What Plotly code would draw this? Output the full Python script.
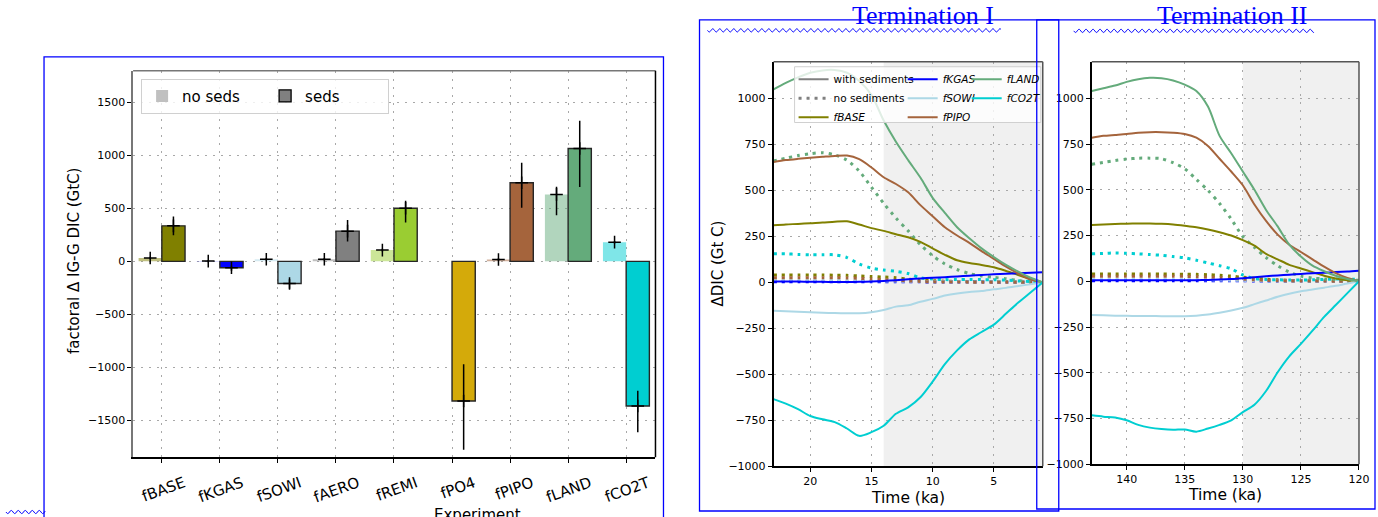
import numpy as np
import plotly.graph_objects as go

# Target picture coordinates (1378 x 517); the figure is drawn a little larger because the
# photographed page is scaled down by ~0.991 to fit the picture.
PW, PH = 1378, 517
W, H = 1390, 522
def px(x): return x / PW
def py(y): return 1 - y / PH

# ---------------- data: factorial bar chart ----------------
experiments = ["fBASE", "fKGAS", "fSOWI", "fAERO", "fREMI", "fPO4", "fPIPO", "fLAND", "fCO2T"]
bar_colors = ["#808000", "#0000ff", "#add8e6", "#808080", "#9acd32", "#d4aa0a", "#a5643c", "#64ab7b", "#00ced1"]
noseds_val = [31, 2, 20, 20, 106, None, 18, 632, 181]
noseds_err_plus = [12, 10, 12, 12, 12, 0, 12, 73, 12]
noseds_err_minus = [12, 10, 12, 12, 12, 0, 12, 197, 12]
seds_val = [335, -60, -210, 285, 501, -1319, 742, 1065, -1366]
seds_err_plus = [88, 20, 40, 106, 72, 347, 188, 262, 144]
seds_err_minus = [88, 28, 50, 97, 135, 460, 235, 364, 248]

# ---------------- data: Termination I (ka) ----------------
t1 = list(range(23, 0, -1))
T1_solid = {
    "fBASE": [310, 315, 318, 322, 325, 330, 332, 315, 295, 280, 262, 245, 220, 185, 150, 120, 105, 95, 82, 62, 40, 18, 0],
    "fKGAS": [5, 4, 4, 3, 3, 2, 2, 3, 5, 8, 12, 17, 21, 25, 28, 32, 36, 40, 44, 47, 50, 52, 55],
    "fSOWI": [-155, -157, -160, -162, -165, -167, -168, -168, -162, -150, -132, -125, -105, -90, -72, -60, -52, -47, -38, -30, -20, -10, 0],
    "fPIPO": [655, 665, 672, 678, 683, 688, 690, 670, 625, 572, 535, 490, 420, 360, 300, 255, 215, 170, 128, 85, 48, 15, 0],
    "fLAND": [1050, 1085, 1115, 1140, 1153, 1155, 1140, 1095, 1020, 880, 765, 665, 570, 460, 378, 300, 240, 185, 138, 95, 58, 25, 0],
    "fCO2T": [-635, -660, -690, -727, -745, -760, -795, -835, -815, -780, -715, -680, -625, -540, -445, -370, -310, -270, -230, -170, -110, -55, 0],
}
T1_noseds = {
    "fBASE": [40, 40, 40, 40, 40, 39, 38, 35, 32, 29, 25, 18, 12, 9, 6, 5, 4, 4, 3, 3, 2, 1, 0],
    "fKGAS": [3, 3, 3, 3, 3, 3, 3, 3, 3, 3, 3, 3, 3, 2, 2, 2, 2, 2, 1, 1, 1, 0, 0],
    "fSOWI": [10, 10, 10, 10, 10, 10, 10, 10, 9, 8, 7, 6, 5, 4, 3, 3, 2, 2, 2, 1, 1, 0, 0],
    "fPIPO": [25, 25, 25, 25, 25, 25, 24, 22, 18, 15, 12, 8, 5, 3, 2, 2, 1, 1, 1, 1, 0, 0, 0],
    "fLAND": [660, 675, 690, 700, 705, 693, 665, 605, 518, 430, 350, 280, 205, 145, 100, 70, 48, 35, 27, 20, 10, 5, 0],
    "fCO2T": [155, 155, 152, 150, 150, 150, 135, 100, 78, 67, 60, 48, 25, 18, 15, 15, 15, 15, 14, 12, 8, 4, 0],
}

# ---------------- data: Termination II (ka) ----------------
t2 = list(range(143, 119, -1))
T2_solid = {
    "fBASE": [308, 310, 313, 315, 316, 316, 314, 310, 303, 295, 283, 268, 250, 225, 195, 150, 120, 90, 70, 50, 30, 15, 5, 0],
    "fKGAS": [5, 5, 5, 5, 5, 5, 5, 5, 5, 6, 7, 9, 12, 17, 22, 27, 32, 36, 40, 44, 47, 50, 53, 57],
    "fSOWI": [-185, -186, -188, -189, -190, -190, -191, -191, -191, -188, -182, -172, -160, -145, -125, -105, -85, -68, -55, -45, -35, -25, -12, 0],
    "fPIPO": [785, 795, 800, 805, 812, 815, 815, 812, 805, 785, 740, 670, 600, 525, 420, 330, 255, 200, 160, 120, 80, 45, 18, 0],
    "fLAND": [1040, 1055, 1070, 1090, 1105, 1112, 1110, 1098, 1075, 1040, 955, 795, 700, 600, 500, 390, 300, 200, 135, 85, 55, 30, 12, 0],
    "fCO2T": [-733, -740, -745, -760, -785, -800, -808, -812, -810, -822, -805, -785, -760, -715, -675, -600, -497, -410, -342, -270, -195, -130, -65, 0],
}
T2_noseds = {
    "fBASE": [40, 40, 40, 40, 40, 40, 40, 39, 39, 38, 36, 33, 28, 22, 17, 12, 8, 5, 4, 3, 3, 2, 1, 0],
    "fKGAS": [3, 3, 3, 3, 3, 3, 3, 3, 3, 3, 3, 3, 3, 3, 2, 2, 2, 2, 1, 1, 1, 0, 0, 0],
    "fSOWI": [10, 10, 10, 10, 10, 10, 10, 10, 10, 9, 8, 7, 6, 5, 4, 3, 3, 2, 2, 1, 1, 0, 0, 0],
    "fPIPO": [28, 28, 28, 28, 28, 28, 28, 28, 27, 25, 23, 20, 16, 12, 8, 5, 3, 2, 2, 1, 1, 0, 0, 0],
    "fLAND": [640, 650, 660, 668, 673, 673, 670, 648, 615, 557, 497, 425, 340, 245, 185, 130, 85, 50, 28, 18, 12, 10, 8, 5],
    "fCO2T": [150, 152, 155, 153, 150, 146, 142, 135, 128, 115, 100, 85, 68, 35, 15, 10, 8, 7, 7, 8, 10, 12, 12, 10],
}
line_colors = {"fBASE": "#808000", "fKGAS": "#0000ff", "fSOWI": "#add8e6",
               "fPIPO": "#a5643c", "fLAND": "#64ab7b", "fCO2T": "#00ced1"}
legend_slot = {"fBASE": ("legend2", 3), "fKGAS": ("legend3", 1), "fSOWI": ("legend3", 2),
               "fPIPO": ("legend3", 3), "fLAND": ("legend4", 1), "fCO2T": ("legend4", 2)}

FONT = "DejaVu Sans"

def rgba(hexc, a):
    h = hexc.lstrip("#")
    return "rgba(%d,%d,%d,%.2f)" % (int(h[0:2], 16), int(h[2:4], 16), int(h[4:6], 16), a)

fig = go.Figure()
xi = np.arange(len(experiments))

# ---- bars ----
fig.add_trace(go.Bar(x=xi - 0.2, y=noseds_val, width=0.4,
                     marker=dict(color=[rgba(c, 0.5) for c in bar_colors], line=dict(width=0)),
                     error_y=dict(type="data", symmetric=False, array=noseds_err_plus, arrayminus=noseds_err_minus,
                                  color="black", thickness=1.5, width=0),
                     showlegend=False, xaxis="x", yaxis="y"))
fig.add_trace(go.Bar(x=xi + 0.2, y=seds_val, width=0.4,
                     marker=dict(color=bar_colors, line=dict(color="#262626", width=1.4)),
                     error_y=dict(type="data", symmetric=False, array=seds_err_plus, arrayminus=seds_err_minus,
                                  color="black", thickness=1.5, width=0),
                     showlegend=False, xaxis="x", yaxis="y"))
for off, vals in ((-0.2, noseds_val), (0.2, seds_val)):
    fig.add_trace(go.Scatter(x=xi + off, y=vals, mode="markers",
                             marker=dict(symbol="cross-thin", size=9, line=dict(color="black", width=1.5)),
                             showlegend=False, xaxis="x", yaxis="y"))
fig.add_trace(go.Bar(x=[None], y=[None], name="no seds", marker=dict(color="#c0c0c0", line=dict(width=0)),
                     legend="legend", xaxis="x", yaxis="y"))
fig.add_trace(go.Bar(x=[None], y=[None], name="seds", marker=dict(color="#808080", line=dict(color="black", width=1.3)),
                     legend="legend", xaxis="x", yaxis="y"))

# ---- lines ----
DOT = "3px,5px"
for (tt, solid, noseds, xa, ya, first) in ((t1, T1_solid, T1_noseds, "x2", "y2", True),
                                            (t2, T2_solid, T2_noseds, "x3", "y3", False)):
    for k in solid:
        fig.add_trace(go.Scatter(x=tt, y=noseds[k], mode="lines",
                                 line=dict(color=line_colors[k], width=3, dash=DOT, shape="spline", smoothing=0.8),
                                 showlegend=False, xaxis=xa, yaxis=ya))
    for k in solid:
        lg, rank = legend_slot[k]
        fig.add_trace(go.Scatter(x=tt, y=solid[k], mode="lines", name="<i>%s</i>" % k,
                                 line=dict(color=line_colors[k], width=2, shape="spline", smoothing=0.8),
                                 showlegend=first, legend=lg, legendrank=rank, xaxis=xa, yaxis=ya))

fig.add_trace(go.Scatter(x=[None], y=[None], mode="lines", name="with sediments",
                         line=dict(color="#808080", width=2), legend="legend2", legendrank=1,
                         xaxis="x2", yaxis="y2"))
fig.add_trace(go.Scatter(x=[None], y=[None], mode="lines", name="no sediments",
                         line=dict(color="#808080", width=3, dash=DOT), legend="legend2", legendrank=2,
                         xaxis="x2", yaxis="y2"))

# ---- axes ----
grid = dict(showgrid=True, gridcolor="#a8a8a8", griddash="2px,6px", gridwidth=1, zeroline=False,
            ticks="outside", ticklen=4, tickcolor="black", showline=True, linecolor="black", linewidth=1.5)
fig.update_layout(
    width=W, height=H, margin=dict(l=0, r=0, t=0, b=0),
    paper_bgcolor="white", plot_bgcolor="white", barmode="overlay",
    font=dict(family=FONT, color="black", size=11),
    xaxis=dict(domain=[px(133), px(655)], range=[-0.495, 8.505], tickvals=list(xi), ticktext=experiments,
               tickangle=-20, tickfont=dict(size=15), ticklabelshift=22, ticklabelstandoff=6, anchor="y", **grid),
    yaxis=dict(domain=[py(459), py(71)], range=[-1850, 1800], tickvals=[-1500, -1000, -500, 0, 500, 1000, 1500],
               tickfont=dict(size=11), anchor="x", **{**grid, "linecolor": "#777777"}),
    xaxis2=dict(domain=[px(773), px(1042)], range=[23, 1], tickvals=[20, 15, 10, 5], anchor="y2",
                tickfont=dict(size=11), **grid),
    yaxis2=dict(domain=[py(468), py(62)], range=[-1000, 1200], tickvals=list(range(-1000, 1001, 250)),
                anchor="x2", tickfont=dict(size=11), **grid),
    xaxis3=dict(domain=[px(1091), px(1358)], range=[143, 120], tickvals=[140, 135, 130, 125, 120], anchor="y3",
                tickfont=dict(size=11), **grid),
    yaxis3=dict(domain=[py(466), py(62)], range=[-1000, 1200], tickvals=list(range(-1000, 1001, 250)),
                anchor="x3", tickfont=dict(size=11), **grid),
    legend=dict(x=px(141), y=py(79), xanchor="left", yanchor="top", orientation="h",
                font=dict(size=15), bgcolor="rgba(255,255,255,0.8)", bordercolor="#d0d0d0", borderwidth=1,
                entrywidth=78),
    legend2=dict(x=px(793), y=py(65), xanchor="left", yanchor="top", font=dict(size=10.5),
                 bgcolor="rgba(0,0,0,0)", tracegroupgap=0),
    legend3=dict(x=px(902), y=py(65), xanchor="left", yanchor="top", font=dict(size=10.5),
                 bgcolor="rgba(0,0,0,0)", tracegroupgap=0),
    legend4=dict(x=px(966), y=py(65), xanchor="left", yanchor="top", font=dict(size=10.5),
                 bgcolor="rgba(0,0,0,0)", tracegroupgap=0),
)

shapes = []
# shaded deglaciation periods
shapes.append(dict(type="rect", xref="x2", yref="y2 domain", x0=14, x1=1, y0=0, y1=1,
                   fillcolor="#f0f0f0", line=dict(width=0), layer="below"))
shapes.append(dict(type="rect", xref="x3", yref="y3 domain", x0=130, x1=120, y0=0, y1=1,
                   fillcolor="#f0f0f0", line=dict(width=0), layer="below"))
# top / right spines
for xr, yr, ct, cr in (("x", "y", "#777777", "black"), ("x2", "y2", "#555555", "#555555"), ("x3", "y3", "#555555", "#555555")):
    shapes.append(dict(type="line", xref=xr + " domain", yref=yr + " domain", x0=0, x1=1, y0=1, y1=1,
                       line=dict(color=ct, width=1.5)))
    shapes.append(dict(type="line", xref=xr + " domain", yref=yr + " domain", x0=1, x1=1, y0=0, y1=1,
                       line=dict(color=cr, width=1.5)))
# legend frame on Termination I
shapes.append(dict(type="rect", xref="paper", yref="paper", x0=px(794), x1=px(1040), y0=py(123), y1=py(67),
                   fillcolor="rgba(255,255,255,0.8)", line=dict(color="#d0d0d0", width=1), layer="above"))
# blue outline boxes
for (x0, y0, x1, y1) in ((44, 57, 663, 540), (699, 20, 1058, 513), (1036, 20, 1374, 511)):
    shapes.append(dict(type="rect", xref="paper", yref="paper", x0=px(x0), x1=px(x1), y0=py(y1), y1=py(y0),
                       line=dict(color="blue", width=1.3), fillcolor="rgba(0,0,0,0)", layer="above"))
# wavy underlines
def wave(xa, xb, yc, period=7.0, amp=1.6):
    xs = np.arange(xa, xb + 0.5, 0.7)
    ys = yc + amp * np.sin(2 * np.pi * (xs - xa) / period)
    return "M " + " L ".join("%.6f,%.6f" % (px(a), py(b)) for a, b in zip(xs, ys))
for (xa, xb, yc) in ((707, 1000, 30.5), (1073, 1313, 31), (6, 45, 514)):
    shapes.append(dict(type="path", xref="paper", yref="paper", path=wave(xa, xb, yc),
                       line=dict(color="blue", width=1), layer="above"))
fig.update_layout(shapes=shapes)

ann = [
    dict(text="Termination I", x=px(922), y=py(16), font=dict(family="Liberation Serif", size=26, color="blue")),
    dict(text="Termination II", x=px(1232), y=py(16), font=dict(family="Liberation Serif", size=26, color="blue")),
    dict(text="factoral Δ IG-G DIC (GtC)", x=px(74), y=py(262), textangle=-90, font=dict(size=15)),
    dict(text="Experiment", x=px(477), y=py(506), yanchor="top", font=dict(size=15)),
    dict(text="ΔDIC (Gt C)", x=px(717), y=py(265), textangle=-90, font=dict(size=15)),
    dict(text="Time (ka)", x=px(907), y=py(500), font=dict(size=15.5)),
    dict(text="Time (ka)", x=px(1224), y=py(497), font=dict(size=15.5)),
]
for a in ann:
    a.update(xref="paper", yref="paper", showarrow=False, xanchor="center")
    a.setdefault("yanchor", "middle")
fig.update_layout(annotations=ann)

fig.write_html("out.html")
